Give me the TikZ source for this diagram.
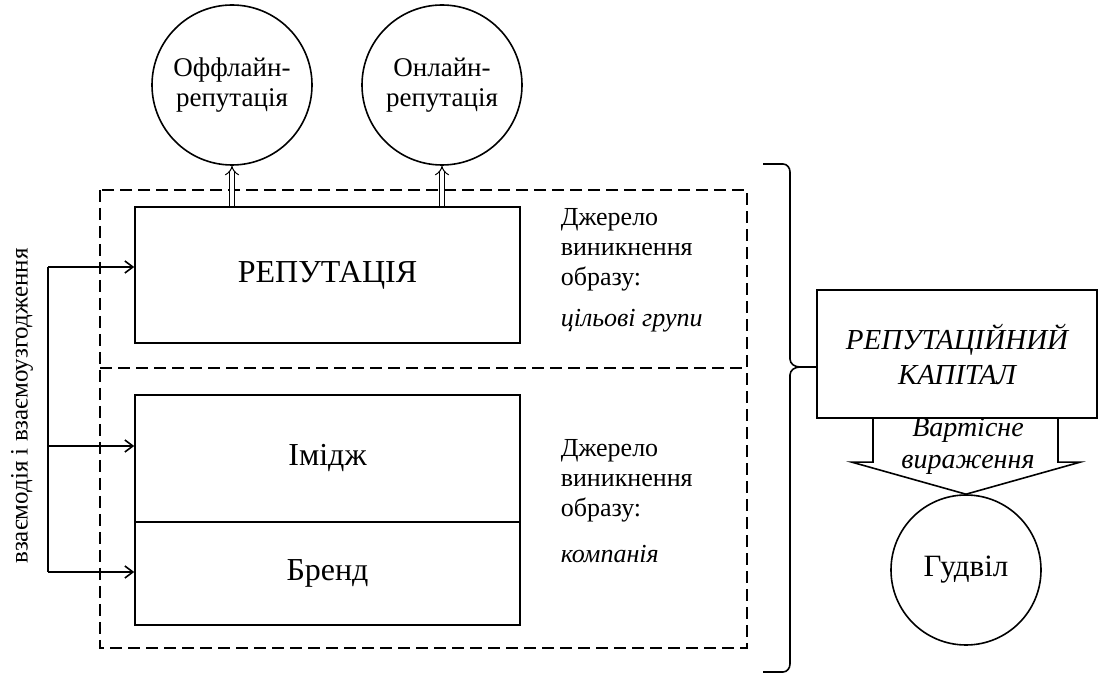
\documentclass[tikz,border=0pt]{standalone}
\usepackage{fontspec}
\setmainfont{Liberation Serif}
\usetikzlibrary{arrows.meta}

\begin{document}
\begin{tikzpicture}[x=0.5pt, y=-0.5pt, line width=0.8pt,
    >={Straight Barb[length=4pt,width=6pt]},
    block/.style={draw, rectangle, inner sep=0pt, minimum width=192.5pt, font=\fontsize{16}{19}\selectfont},
    circ/.style={draw, circle, inner sep=0pt, minimum size=80pt, align=center, font=\fontsize{13.5}{15}\selectfont},
    frame/.style={dash pattern=on 6pt off 3pt},
    dbl/.style={double, double distance=2pt, line width=0.5pt, -{Implies}},
    note/.style={anchor=north west, inner sep=0pt, align=left, font=\fontsize{13}{15}\selectfont}]
    \fill[white] (0,0) rectangle (1099,673);
    \useasboundingbox (0,0) rectangle (1099,673);

    % Dashed frame
    \draw[frame] (100,190) rectangle (747,648);
    \draw[frame] (100,368) -- (747,368);

    % Boxes
    \node[block, minimum height=68pt] (rep) at (327.5,275) {РЕПУТАЦІЯ};
    \node[block, minimum height=63.5pt] (img) at (327.5,458.5) {Імідж};
    \node[block, minimum height=51.5pt] (brand) at (327.5,573.5) {Бренд};

    % Circles on top
    \node[circ] (off) at (232,85) {Оффлайн-\\репутація};
    \node[circ] (on) at (442,85) {Онлайн-\\репутація};
    \draw[dbl] (off.south |- rep.north) -- (off.south);
    \draw[dbl] (on.south |- rep.north) -- (on.south);

    % Source notes
    \node[note] (src1) at (560,208) {Джерело\\виникнення\\образу:\\[5.5pt]\textit{цільові групи}};
    \node[note] (src2) at (560,439) {Джерело\\виникнення\\образу:\\[8pt]\textit{компанія}};

    % Interaction bracket
    \node[rotate=90, font=\fontsize{12.5}{15}\selectfont] (link) at (22,406) {взаємодія і взаємоузгодження};
    \coordinate (j1) at (48,267);
    \coordinate (j2) at (48,446);
    \coordinate (j3) at (48,572);
    \draw (j1) -- (j3);
    \draw[->] (j1) -- (j1 -| rep.west);
    \draw[->] (j2) -- (j2 -| img.west);
    \draw[->] (j3) -- (j3 -| brand.west);

    % Capital and goodwill
    \node[draw, rectangle, minimum width=140pt, minimum height=64pt, align=center,
          font=\fontsize{14.5}{17.5}\selectfont\itshape] (cap) at (957,354) {РЕПУТАЦІЙНИЙ\\КАПІТАЛ};
    \coordinate (tip) at (800,367);
    \draw (763,164) -- (783,164) to[out=0,in=90] (790,172) -- (790,359)
          to[out=-90,in=180] (tip) to[out=180,in=90] (790,375) -- (790,664)
          to[out=-90,in=0] (783,672) -- (763,672);
    \draw (tip) -- (tip -| cap.west);
    \node[circ, minimum size=75pt, font=\fontsize{15.5}{18}\selectfont] (gud) at (966,570) {Гудвіл};
    \draw (gud.north) -- ++(-114,-32) -- ++(21,0) -- ++(0,-45);
    \draw (gud.north) -- ++(114,-32) -- ++(-22,0) -- ++(0,-45);
    \node[align=center, font=\fontsize{14}{16}\selectfont\itshape] (val) at (968,446) {Вартісне\\вираження};
\end{tikzpicture}
\end{document}
